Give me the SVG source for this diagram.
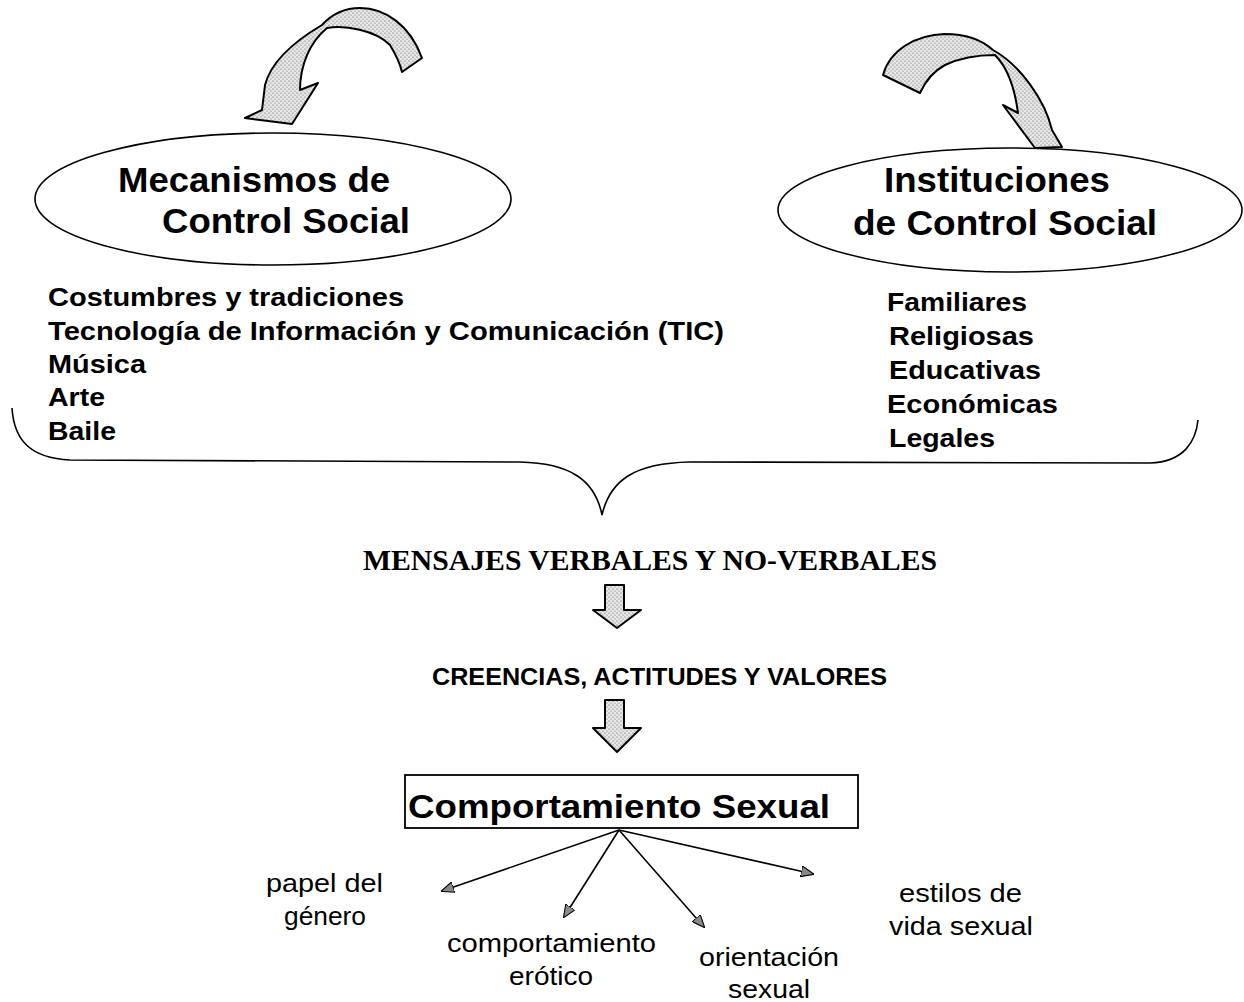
<svg xmlns="http://www.w3.org/2000/svg" width="1244" height="1002" viewBox="0 0 1244 1002">
<defs>
<pattern id="stip" width="4" height="4" patternUnits="userSpaceOnUse">
<rect width="4" height="4" fill="#e6e6e6"/>
<circle cx="1" cy="1" r="0.6" fill="#555"/>
<circle cx="3" cy="3" r="0.6" fill="#777"/>
</pattern>
<marker id="ah" viewBox="0 0 12 10" refX="11" refY="5" markerWidth="13" markerHeight="11" markerUnits="userSpaceOnUse" orient="auto">
<path d="M0,0 L12,5 L0,10 Z" fill="#8a8a8a" stroke="#000" stroke-width="1"/>
</marker>
<style>
.sb{font-family:"Liberation Sans",Arial,sans-serif;font-weight:bold;fill:#000}
.sr{font-family:"Liberation Sans",Arial,sans-serif;fill:#000}
.sf{font-family:"Liberation Serif","Times New Roman",serif;font-weight:bold;fill:#000}
.shape{fill:url(#stip);stroke:#000;stroke-width:2;stroke-linejoin:round}
.line{fill:none;stroke:#000;stroke-width:1.6}
</style>
</defs>
<rect width="1244" height="1002" fill="#fff"/>

<g id="curved-arrow-left">
<path class="shape" d="M422,58 C410,25 385,8 360,8 C345,8 332,14 322,25 C300,38 272,58 265,85 L262,110 L245,118 L292,124 L318,83 L300,90 C300,65 310,42 327,28 C345,25 375,30 390,45 C396,55 400,63 402,72 Z"/>
</g>
<g id="curved-arrow-right">
<path class="shape" d="M883,75 C890,50 915,35 945,34 C965,34 982,40 993,50 C1020,65 1045,100 1052,130 L1062,147 L1035,148 L1003,105 L1018,113 C1015,90 1008,68 995,55 C980,55 960,58 945,65 C932,72 925,82 920,93 Z"/>
</g>

<g id="mecanismos">
<ellipse cx="273" cy="199" rx="238" ry="66" fill="none" stroke="#000" stroke-width="1.6"/>
<text class="sb" x="118" y="192" font-size="35" textLength="272" lengthAdjust="spacingAndGlyphs">Mecanismos de</text>
<text class="sb" x="162" y="233" font-size="35" textLength="248" lengthAdjust="spacingAndGlyphs">Control Social</text>
</g>
<g id="instituciones">
<ellipse cx="1010" cy="210" rx="232" ry="62" fill="none" stroke="#000" stroke-width="1.6"/>
<text class="sb" x="884" y="192" font-size="35" textLength="226" lengthAdjust="spacingAndGlyphs">Instituciones</text>
<text class="sb" x="853" y="235" font-size="35" textLength="304" lengthAdjust="spacingAndGlyphs">de Control Social</text>
</g>

<g id="lista-mecanismos" class="sb" font-size="26">
<text x="48" y="306" textLength="356" lengthAdjust="spacingAndGlyphs">Costumbres y tradiciones</text>
<text x="48" y="340" textLength="676" lengthAdjust="spacingAndGlyphs">Tecnología de Información y Comunicación (TIC)</text>
<text x="48" y="373" textLength="98" lengthAdjust="spacingAndGlyphs">Música</text>
<text x="48" y="406" textLength="57" lengthAdjust="spacingAndGlyphs">Arte</text>
<text x="48" y="440" textLength="68" lengthAdjust="spacingAndGlyphs">Baile</text>
</g>
<g id="lista-instituciones" class="sb" font-size="26">
<text x="887" y="311" textLength="140" lengthAdjust="spacingAndGlyphs">Familiares</text>
<text x="889" y="345" textLength="145" lengthAdjust="spacingAndGlyphs">Religiosas</text>
<text x="889" y="379" textLength="152" lengthAdjust="spacingAndGlyphs">Educativas</text>
<text x="887" y="413" textLength="171" lengthAdjust="spacingAndGlyphs">Económicas</text>
<text x="889" y="447" textLength="106" lengthAdjust="spacingAndGlyphs">Legales</text>
</g>

<g id="connectors">
<path id="brace" class="line" d="M12,408 C14,440 30,458 70,460 L520,462 C570,463 595,480 602,515 C610,480 635,463 690,462 L1150,463 C1185,462 1196,440 1198,420"/>
<path id="block-arrow-1" class="shape" stroke-width="1.8" d="M605,585 L624,585 L624,610 L641,610 L617,628 L593,610 L605,610 Z"/>
<path id="block-arrow-2" class="shape" stroke-width="1.8" d="M605,700 L624,700 L624,728 L641,728 L617,752 L593,728 L605,728 Z"/>
<line class="line" x1="619" y1="830" x2="442" y2="891" marker-end="url(#ah)"/>
<line class="line" x1="619" y1="830" x2="564" y2="917" marker-end="url(#ah)"/>
<line class="line" x1="619" y1="830" x2="704" y2="927" marker-end="url(#ah)"/>
<line class="line" x1="619" y1="830" x2="813" y2="874" marker-end="url(#ah)"/>
</g>

<g id="mensajes">
<text class="sf" x="363" y="570" font-size="29" textLength="574" lengthAdjust="spacingAndGlyphs">MENSAJES VERBALES Y NO-VERBALES</text>
</g>
<g id="creencias">
<text class="sb" x="432" y="685" font-size="24" textLength="455" lengthAdjust="spacingAndGlyphs">CREENCIAS, ACTITUDES Y VALORES</text>
</g>

<g id="comportamiento-sexual">
<rect x="405" y="775" width="453" height="53" fill="none" stroke="#000" stroke-width="1.8"/>
<text class="sb" x="408" y="818" font-size="34" textLength="422" lengthAdjust="spacingAndGlyphs">Comportamiento Sexual</text>
</g>

<g id="papel-genero" class="sr" font-size="26">
<text x="266" y="892" textLength="117" lengthAdjust="spacingAndGlyphs">papel del</text>
<text x="284" y="925" textLength="82" lengthAdjust="spacingAndGlyphs">género</text>
</g>
<g id="comportamiento-erotico" class="sr" font-size="26">
<text x="447" y="952" textLength="209" lengthAdjust="spacingAndGlyphs">comportamiento</text>
<text x="509" y="985" textLength="84" lengthAdjust="spacingAndGlyphs">erótico</text>
</g>
<g id="orientacion-sexual" class="sr" font-size="26">
<text x="699" y="966" textLength="140" lengthAdjust="spacingAndGlyphs">orientación</text>
<text x="728" y="998" textLength="82" lengthAdjust="spacingAndGlyphs">sexual</text>
</g>
<g id="estilos-vida" class="sr" font-size="26">
<text x="899" y="902" textLength="123" lengthAdjust="spacingAndGlyphs">estilos de</text>
<text x="889" y="935" textLength="144" lengthAdjust="spacingAndGlyphs">vida sexual</text>
</g>
</svg>
